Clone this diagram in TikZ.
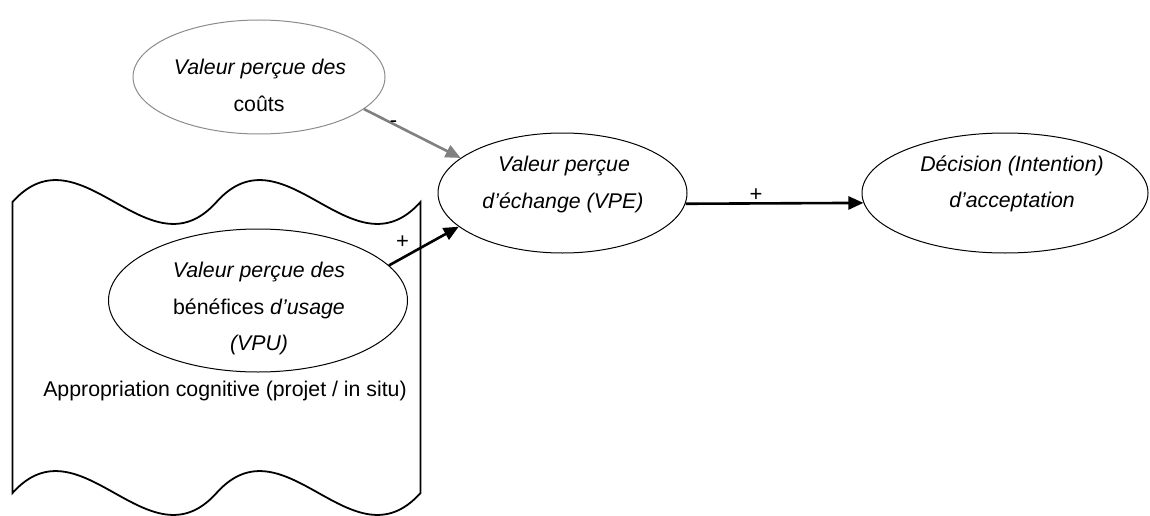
\documentclass[tikz,border=0pt]{standalone}
\usepackage{fontspec}
\setmainfont{Liberation Sans}
\usetikzlibrary{arrows.meta,shapes.geometric}
\definecolor{arrgray}{RGB}{128,128,128}
\definecolor{ovgray}{RGB}{140,140,140}
\begin{document}
\begin{tikzpicture}[x=1pt,y=-1pt,
  oval/.style={ellipse,draw,line width=1pt,fill=white,inner sep=0pt},
  txt/.style={anchor=base,inner sep=0pt,font=\fontsize{21.3}{25}\selectfont},
  lab/.style={inner sep=0pt,font=\fontsize{22}{24}\selectfont},
  arr/.style={line width=2.6pt,-{Triangle[length=15pt,width=13pt]}},
]
\useasboundingbox (0,0) rectangle (1150,516);
% wavy box
\draw[line width=1.8pt,fill=white]
  (12.5,202) .. controls (80.5,126) and (148.5,278) .. (216.5,202)
  .. controls (284.5,126) and (352.5,278) .. (420.5,202)
  -- (420.5,493)
  .. controls (352.5,569) and (284.5,417) .. (216.5,493)
  .. controls (148.5,569) and (80.5,417) .. (12.5,493) -- cycle;
% ellipses
\node[oval,draw=ovgray,minimum width=252pt,minimum height=114pt] (cost) at (259,77) {};
\node[oval,minimum width=249pt,minimum height=120pt] (vpe) at (562.5,193) {};
\node[oval,minimum width=286pt,minimum height=120pt] (dec) at (1005,193) {};
\node[oval,minimum width=299pt,minimum height=143pt] (vpu) at (258,300.5) {};
% texts
\node[txt] (tc1) at (260,75) {\itshape Valeur perçue des};
\node[txt] (tc2) at (259,111.7) {coûts};
\node[txt] (te1) at (564,171.7) {\itshape Valeur perçue};
\node[txt] (te2) at (563,208.3) {\itshape d’échange (VPE)};
\node[txt] (td1) at (1012,171.7) {\itshape Décision (Intention)};
\node[txt] (td2) at (1012,207) {\itshape d’acceptation};
\node[txt] (tu1) at (259,277) {\itshape Valeur perçue des};
\node[txt] (tu2) at (259,314) {bénéfices \textit{d’usage}};
\node[txt] (tu3) at (259,350.5) {\itshape (VPU)};
\node[txt] (tapp) at (225,396) {Appropriation cognitive (projet / in situ)};
% connectors
\draw[arr,arrgray] (cost.-17) -- (vpe.161);
\draw[arr] (vpu.15.6) -- (vpe.198.9);
\draw[arr] (vpe.-5.6) -- (dec.184.9);
% labels
\node[lab] (lminus) at (393.5,124) {-};
\node[lab] (lplus1) at (402.5,242.5) {+};
\node[lab] (lplus2) at (756,195) {+};
\end{tikzpicture}
\end{document}
